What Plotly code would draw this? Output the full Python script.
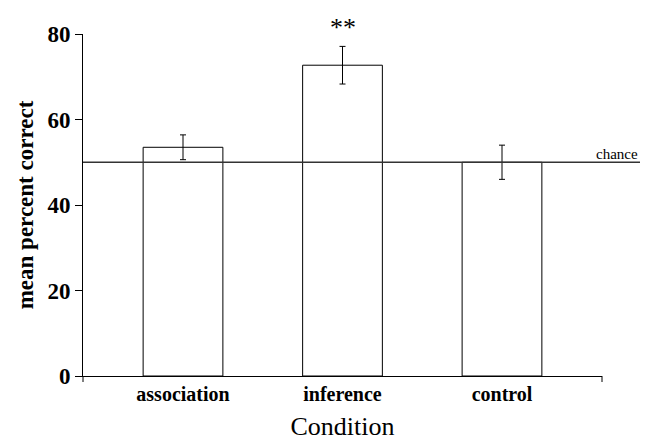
import plotly.graph_objects as go

categories = ["association", "inference", "control"]
means = [53.5, 72.7, 50.0]
errors = [2.9, 4.4, 4.0]
chance_level = 50
y_ticks = [0, 20, 40, 60, 80]

serif = "Liberation Serif"

fig = go.Figure()
fig.add_trace(go.Bar(
    x=categories, y=means, width=0.5,
    marker=dict(color="white", line=dict(color="black", width=1)),
    error_y=dict(type="data", array=errors, visible=True, color="black",
                 thickness=1, width=3),
    showlegend=False, hoverinfo="skip",
))

# chance line (extends beyond the plot area to the right)
fig.add_shape(type="line", xref="paper", yref="y",
              x0=0, x1=557/519, y0=chance_level, y1=chance_level,
              line=dict(color="#333333", width=1.5), layer="above")
fig.add_annotation(text="chance", xref="paper", yref="y",
                   x=557/519, y=chance_level, xanchor="right", yanchor="bottom",
                   showarrow=False, font=dict(family=serif, size=15, color="black"),
                   yshift=-2)

# significance marker
fig.add_annotation(text="**", x="inference", y=means[1] + errors[1],
                   yanchor="bottom", showarrow=False, yshift=2,
                   font=dict(family=serif, size=26, color="black"))

# x-axis end ticks
for xp in (0, 1):
    fig.add_shape(type="line", xref="paper", yref="paper",
                  x0=xp, x1=xp, y0=0, y1=-6/342,
                  line=dict(color="black", width=1))

fig.update_layout(
    width=649, height=442,
    margin=dict(l=83, r=47, t=34, b=66, autoexpand=False),
    plot_bgcolor="white", paper_bgcolor="white",
    bargap=0.5,
    xaxis=dict(
        range=[-0.627, 2.627], showline=True, linecolor="black", linewidth=1,
        ticks="", showgrid=False, zeroline=False, automargin=False,
        tickfont=dict(family=serif, size=20, color="black", weight="bold"),
        title=dict(text="Condition", font=dict(family=serif, size=26, color="black"),
                   standoff=12),
    ),
    yaxis=dict(
        range=[0, 80], tickvals=y_ticks, showline=True, linecolor="black",
        linewidth=1, ticks="outside", ticklen=7, tickcolor="black",
        showgrid=False, zeroline=False, automargin=False,
        tickfont=dict(family=serif, size=23, color="black", weight="bold"),
        title=dict(text="mean percent correct",
                   font=dict(family=serif, size=23, color="black", weight="bold"),
                   standoff=7),
    ),
)

fig.write_html("out.html", config={"displayModeBar": False},
               post_script="document.body.style.margin='0';document.body.style.overflow='hidden';")
